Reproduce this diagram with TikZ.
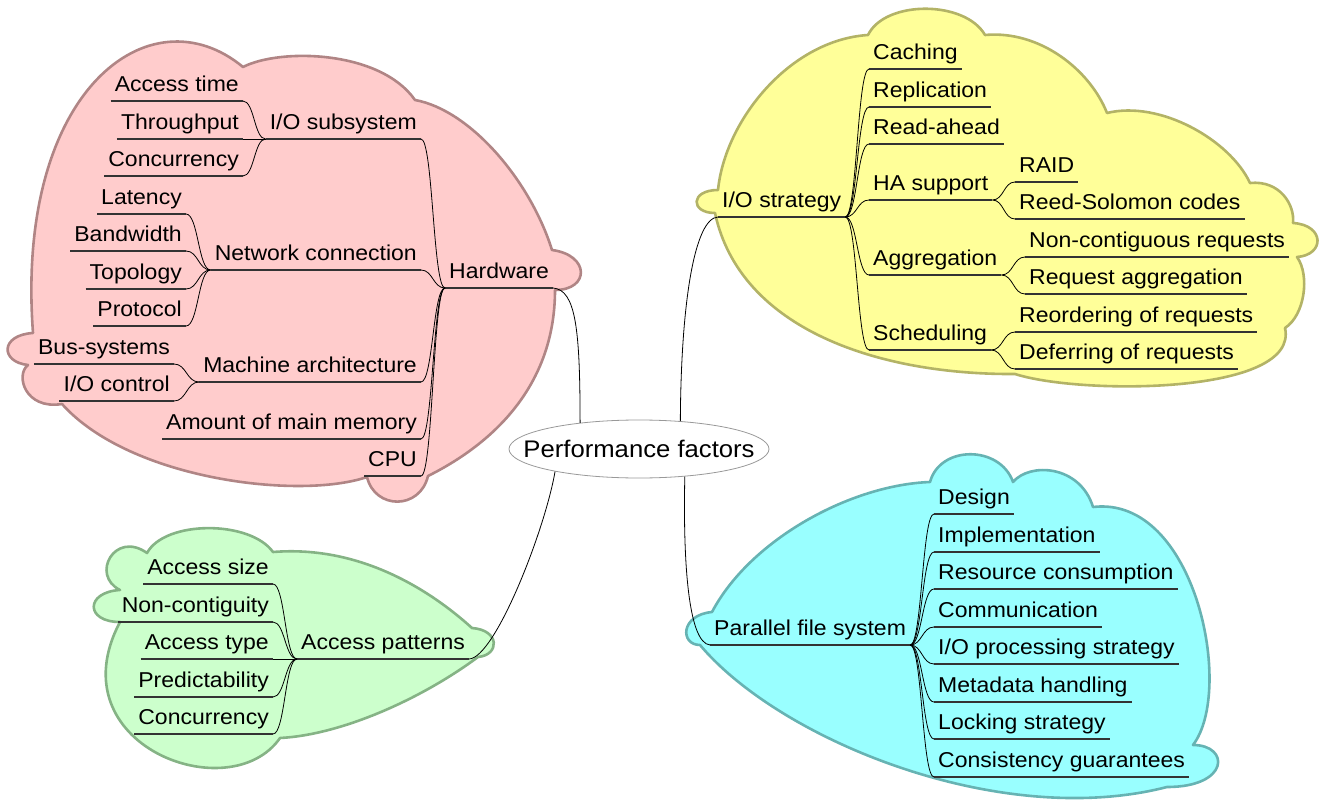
\documentclass[tikz,border=0pt]{standalone}
\usepackage{fontspec}
\setmainfont{Liberation Sans}[FakeStretch=1.07]
\usetikzlibrary{calc,shapes.geometric}

\definecolor{pinkfill}{HTML}{FFCCCC}
\definecolor{pinkline}{HTML}{B08585}
\definecolor{yelfill}{HTML}{FFFF99}
\definecolor{yelline}{HTML}{B3B366}
\definecolor{cyanfill}{HTML}{99FFFF}
\definecolor{cyanline}{HTML}{66B3B3}
\definecolor{grnfill}{HTML}{CCFFCC}
\definecolor{grnline}{HTML}{85B385}

\newcommand\fmfont{\fontsize{21.5}{24}\selectfont}
\newcommand\rootfont{\fontsize{24}{28}\selectfont}
% fork-style bezier from a parent end to a child end
\newcommand\fmlink[2]{\draw[fmedge] let \p1=(#1), \p2=(#2) in
  (\p1) .. controls ({(\x1+\x2)/2},\y1) and ({(\x1+\x2)/2},\y2) .. (\p2);}

\tikzset{
  fm/.style={font=\fmfont, inner xsep=4pt, inner ysep=4pt, text height=16pt, text depth=5pt},
  lft/.style={fm, anchor=south east},
  rgt/.style={fm, anchor=south west},
  fmul/.style={line width=1.3pt, draw=black!80},
  fmedge/.style={line width=0.8pt, draw=black},
  cloud/.style={line width=2.6pt, line join=round},
}

\begin{document}
\begin{tikzpicture}[x=1pt,y=-1pt]
\useasboundingbox (0,0) rectangle (1325,802);

% ---- clouds ----
\draw[cloud, fill=pinkfill, draw=pinkline]
  (33,333) .. controls (15,90) and (150,-10) .. (243,67)
  .. controls (280,48) and (380,50) .. (415,100)
  .. controls (470,110) and (530,180) .. (552,250)
  .. controls (590,255) and (590,290) .. (555,290)
  .. controls (555,380) and (500,440) .. (428,476)
  .. controls (420,510) and (375,510) .. (367,477)
  .. controls (300,500) and (130,480) .. (62,404)
  .. controls (25,410) and (15,375) .. (28,365)
  .. controls (0,362) and (0,335) .. cycle;

\draw[cloud, fill=yelfill, draw=yelline]
  (718,190) .. controls (725,120) and (790,40) .. (868,35)
  .. controls (885,0) and (965,0) .. (985,35)
  .. controls (1040,30) and (1090,70) .. (1107,113)
  .. controls (1160,100) and (1230,140) .. (1250,183)
  .. controls (1280,180) and (1295,205) .. (1293,223)
  .. controls (1325,225) and (1325,255) .. (1297,257)
  .. controls (1310,275) and (1305,315) .. (1285,328)
  .. controls (1300,395) and (1080,395) .. (1015,374)
  .. controls (880,375) and (740,330) .. (715,213)
  .. controls (690,213) and (690,190) .. cycle;

\draw[cloud, fill=cyanfill, draw=cyanline]
  (712,612) .. controls (750,540) and (850,485) .. (930,482)
  .. controls (940,445) and (1000,445) .. (1013,482)
  .. controls (1030,462) and (1080,465) .. (1093,507)
  .. controls (1195,495) and (1235,690) .. (1193,745)
  .. controls (1230,745) and (1230,787) .. (1167,787)
  .. controls (1000,830) and (780,740) .. (700,645)
  .. controls (680,645) and (680,615) .. cycle;

\draw[cloud, fill=grnfill, draw=grnline]
  (120,590) .. controls (90,575) and (115,530) .. (147,553)
  .. controls (165,520) and (250,520) .. (273,552)
  .. controls (360,545) and (430,590) .. (472,628)
  .. controls (500,630) and (500,655) .. (478,657)
  .. controls (420,700) and (340,735) .. (280,738)
  .. controls (230,810) and (55,745) .. (120,622)
  .. controls (85,622) and (85,592) .. cycle;

% ---- root ----
\node[ellipse, draw=black!40, fill=white, line width=0.8pt, minimum width=260pt,
      minimum height=58pt, inner sep=0pt, font=\rootfont] (root) at (639,449)
      {\makebox[0pt]{Performance factors}};

% ---- Hardware ----
\node[rgt] (hw) at (445,288) {Hardware};
\node[lft] (iosub) at (421,139) {I/O subsystem};
\node[lft] (acct) at (243,101) {Access time};
\node[lft] (thr) at (243,139) {Throughput};
\node[lft] (conc1) at (243,176) {Concurrency};
\node[lft] (net) at (421,270) {Network connection};
\node[lft] (lat) at (186,214) {Latency};
\node[lft] (bw) at (186,251) {Bandwidth};
\node[lft] (topo) at (186,289) {Topology};
\node[lft] (proto) at (186,326) {Protocol};
\node[lft] (mach) at (421,382) {Machine architecture};
\node[lft] (bus) at (174,364) {Bus-systems};
\node[lft] (ioc) at (174,401) {I/O control};
\node[lft] (mem) at (421,439) {Amount of main memory};
\node[lft] (cpu) at (421,476) {CPU};

% ---- I/O strategy ----
\node[rgt] (ios) at (718,217) {I/O strategy};
\node[rgt] (cach) at (869,69) {Caching};
\node[rgt] (repl) at (869,107) {Replication};
\node[rgt] (rah) at (869,144) {Read-ahead};
\node[rgt] (ha) at (869,200) {HA support};
\node[rgt] (raid) at (1015,182) {RAID};
\node[rgt] (rsc) at (1015,219) {Reed-Solomon codes};
\node[rgt] (agg) at (869,275) {Aggregation};
\node[rgt] (ncr) at (1025,257) {Non-contiguous requests};
\node[rgt] (rqa) at (1025,294) {Request aggregation};
\node[rgt] (sch) at (869,350) {Scheduling};
\node[rgt] (reo) at (1015,332) {Reordering of requests};
\node[rgt] (dfr) at (1015,369) {Deferring of requests};

% ---- Parallel file system ----
\node[rgt] (pfs) at (710,645) {Parallel file system};
\node[rgt] (des) at (934,514) {Design};
\node[rgt] (imp) at (934,552) {Implementation};
\node[rgt] (res) at (934,589) {Resource consumption};
\node[rgt] (com) at (934,627) {Communication};
\node[rgt] (iop) at (934,664) {I/O processing strategy};
\node[rgt] (meta) at (934,702) {Metadata handling};
\node[rgt] (lock) at (934,739) {Locking strategy};
\node[rgt] (cons) at (934,777) {Consistency guarantees};

% ---- Access patterns ----
\node[rgt] (ap) at (297,659) {Access patterns};
\node[lft] (asz) at (273,584) {Access size};
\node[lft] (ncg) at (273,622) {Non-contiguity};
\node[lft] (aty) at (273,659) {Access type};
\node[lft] (pred) at (273,697) {Predictability};
\node[lft] (conc2) at (273,734) {Concurrency};

% ---- underlines ----
\foreach \n in {hw,iosub,acct,thr,conc1,net,lat,bw,topo,proto,mach,bus,ioc,mem,cpu,
  ios,cach,repl,rah,ha,raid,rsc,agg,ncr,rqa,sch,reo,dfr,
  pfs,des,imp,res,com,iop,meta,lock,cons,
  ap,asz,ncg,aty,pred,conc2}
  {\draw[fmul] (\n.south west) -- (\n.south east);}

% ---- connectors inside branches ----
\foreach \c in {iosub,net,mach,mem,cpu} {\fmlink{hw.south west}{\c.south east}}
\foreach \c in {acct,thr,conc1} {\fmlink{iosub.south west}{\c.south east}}
\foreach \c in {lat,bw,topo,proto} {\fmlink{net.south west}{\c.south east}}
\foreach \c in {bus,ioc} {\fmlink{mach.south west}{\c.south east}}

\foreach \c in {cach,repl,rah,ha,agg,sch} {\fmlink{ios.south east}{\c.south west}}
\foreach \c in {raid,rsc} {\fmlink{ha.south east}{\c.south west}}
\foreach \c in {ncr,rqa} {\fmlink{agg.south east}{\c.south west}}
\foreach \c in {reo,dfr} {\fmlink{sch.south east}{\c.south west}}

\foreach \c in {des,imp,res,com,iop,meta,lock,cons} {\fmlink{pfs.south east}{\c.south west}}

\foreach \c in {asz,ncg,aty,pred,conc2} {\fmlink{ap.south west}{\c.south east}}

% ---- connectors to the root ----
\draw[fmedge] (hw.south east) .. controls (576,290) and (580,330) .. (root.156);
\draw[fmedge] (ios.south west) .. controls (695,218) and (681,300) .. (root.34);
\draw[fmedge] (ap.south east) .. controls (495,658) and (545,530) .. (root.195);
\draw[fmedge] (pfs.south west) .. controls (688,643) and (683,560) .. (root.329);
\end{tikzpicture}
\end{document}
